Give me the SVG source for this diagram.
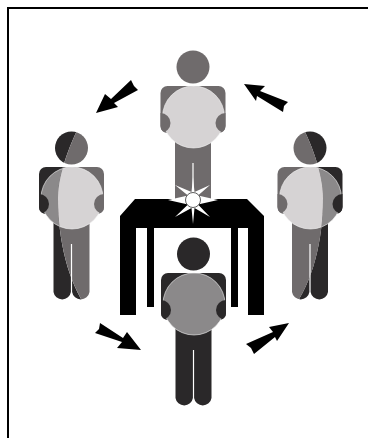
<svg xmlns="http://www.w3.org/2000/svg" width="368" height="438" viewBox="0 0 368 438">
<style>
.arrow{fill:#000}
.halo{stroke:#f4f3f3;stroke-width:.6}
.ray{fill:#fff}
</style>
<defs>
<clipPath id="bodyClip"><rect x="-32.500" y="19" width="65" height="47" rx="7"/></clipPath>
<g id="fig">
<circle cx="0" cy="0" r="16.500"/>
<path d="M-18 60V144a8.800 8.800 0 0 0 17.400 0V96H.6V144a8.800 8.800 0 0 0 17.400 0V60Z"/>
<rect x="-32.500" y="19" width="65" height="47" rx="7"/>
<circle cx="0.500" cy="50" r="31" fill="currentColor" class="halo"/>
<g clip-path="url(#bodyClip)">
<circle cx="-32.500" cy="56" r="10"/>
<circle cx="32.500" cy="56" r="10"/>
</g>
</g>
<clipPath id="clipLeftDark"><path d="M0 120H82C72 140 58 172 58 198C58 240 68 282 88 310H0Z"/></clipPath>
<clipPath id="clipLeftLight"><path d="M82 120H130V310H88C68 282 58 240 58 198C58 172 72 140 82 120Z"/></clipPath>
<clipPath id="clipRightDark"><path d="M368 120H299C310 140 323 172 323 198C323 240 313 282 292 310H368Z"/></clipPath>
<clipPath id="clipRightLight"><path d="M299 120H260V310H292C313 282 323 240 323 198C323 172 310 140 299 120Z"/></clipPath>
</defs>
<rect width="368" height="438" fill="#fff"/>
<path id="frame" d="M8 438V8H368" fill="none" stroke="#000" stroke-width="2"/>

<g id="person-top"><use href="#fig" x="193" y="67" fill="#6f6b6c" color="#d6d3d4"/></g>
<g id="person-left">
<g clip-path="url(#clipLeftDark)"><use href="#fig" x="71.500" y="148" fill="#2a2829" color="#8b898a"/></g>
<g clip-path="url(#clipLeftLight)"><use href="#fig" x="71.500" y="148" fill="#6f6b6c" color="#d6d3d4"/></g>
</g>
<g id="person-right">
<g clip-path="url(#clipRightDark)"><use href="#fig" x="310" y="148" fill="#2a2829" color="#8b898a"/></g>
<g clip-path="url(#clipRightLight)"><use href="#fig" x="310" y="148" fill="#6f6b6c" color="#d6d3d4"/></g>
</g>
<g id="table">
<path d="M135 199H247L264 216V315H248V228H238V307H231V228H154V307H147V228H136V315H120V216Z" fill="#000"/>
</g>
<g id="burst">
<path class="ray" d="M193 177L194.500 192L210 185L198 195.500L218 200L198 204.500L210 217L194.500 208L193 224L191.500 208L175 217L188 204.500L168 200L188 195.500L175 185L191.500 192Z"/>
<circle cx="193" cy="200" r="7.500" fill="#fff" stroke="#333" stroke-width=".8"/>
</g>
<g id="person-bottom"><use href="#fig" x="193.500" y="254" fill="#2a2829" color="#8b898a"/></g>
<g id="connectors">
<path class="arrow" d="M96 113L105 94L111 99L131 80L134 86L138 90L114 103L118 107Z"/>
<path class="arrow" d="M244 84L265 86L260 91L288 102L284 106L283 112L257 96L256 101Z"/>
<path class="arrow" d="M141 350L117 348L122 342L95 333L99 329L100 323L123 338L127 332Z"/>
<path class="arrow" d="M289 323L269 327L273 332L246 344L251 348L254 354L275 337L277 341Z"/>
</g>
</svg>
